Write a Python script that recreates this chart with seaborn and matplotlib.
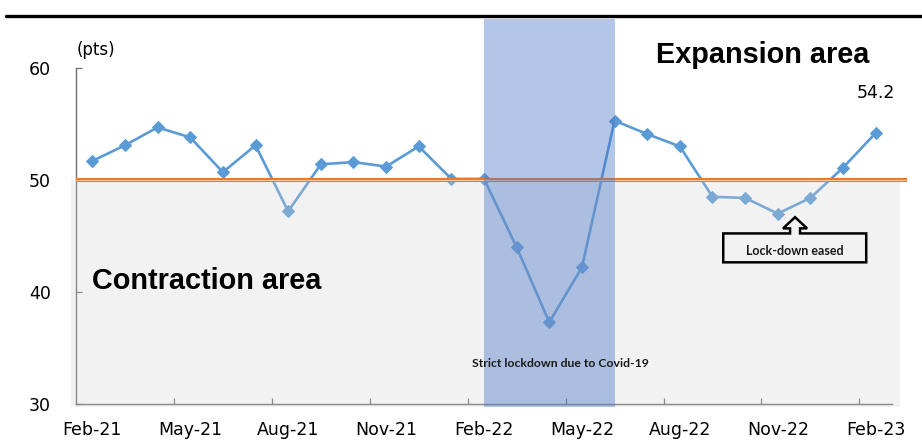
import numpy as np
import pandas as pd
import seaborn as sns
import matplotlib.pyplot as plt
from matplotlib.patches import Rectangle, Polygon
from matplotlib.lines import Line2D

# Monthly index readings, Feb-21 .. Feb-23
months = ["Feb-21", "Mar-21", "Apr-21", "May-21", "Jun-21", "Jul-21", "Aug-21",
          "Sep-21", "Oct-21", "Nov-21", "Dec-21", "Jan-22", "Feb-22", "Mar-22",
          "Apr-22", "May-22", "Jun-22", "Jul-22", "Aug-22", "Sep-22", "Oct-22",
          "Nov-22", "Dec-22", "Jan-23", "Feb-23"]
pmi = [51.7, 53.1, 54.7, 53.8, 50.7, 53.1, 47.2, 51.4, 51.6, 51.2, 53.0, 50.1,
       50.1, 44.0, 37.3, 42.2, 55.3, 54.1, 53.0, 48.5, 48.4, 47.0, 48.4, 51.1, 54.2]
tick_labels = ["Feb-21", "May-21", "Aug-21", "Nov-21", "Feb-22",
               "May-22", "Aug-22", "Nov-22", "Feb-23"]
y_ticks = [30, 40, 50, 60]
threshold = 50
lockdown_start, lockdown_end = "Feb-22", "Jun-22"
eased_month = "Nov-22"

df = pd.DataFrame({"idx": np.arange(len(months)), "month": months, "pmi": pmi})

sns.set_theme(style="white")
plt.rcParams["font.family"] = ["DejaVu Sans"]

W, H = 922, 441
fig = plt.figure(figsize=(W / 100, H / 100), dpi=100)
ax = fig.add_axes([76 / W, 37 / H, 816 / W, 336 / H])

line_col = "#5B9BD5"
sns.lineplot(data=df, x="idx", y="pmi", ax=ax, color=line_col, lw=1.9,
             marker="D", markersize=6, markeredgecolor=line_col,
             markerfacecolor=line_col, zorder=2)

ax.set_xlim(-0.5, len(months) - 0.5)
ax.set_ylim(30, 60)
ax.set_xlabel("")
ax.set_ylabel("")

# contraction zone shading (below the 50 threshold)
ax.add_patch(Rectangle((-0.65, 29.7), len(months) + 0.4, threshold - 29.7,
                       facecolor="#D2D2D2", alpha=0.28, lw=0, zorder=3,
                       clip_on=False))

# 50-point threshold line (double orange stroke)
x_thr = [-0.5, len(months) - 0.04]
ax.plot(x_thr, [threshold, threshold], color="#F07A22", lw=2.9, zorder=4,
        clip_on=False, solid_capstyle="butt")
ax.plot(x_thr, [threshold, threshold], color="#FBD9C0", lw=0.6, zorder=4,
        clip_on=False, solid_capstyle="butt")

# lockdown band
i0, i1 = months.index(lockdown_start), months.index(lockdown_end)
ax.add_patch(Rectangle((i0, 29.7), i1 - i0, 64.4 - 29.7, facecolor="#4472C4",
                       alpha=0.4, lw=0, zorder=5, clip_on=False))

# axes styling
for s in ["top", "right"]:
    ax.spines[s].set_visible(False)
for s in ["left", "bottom"]:
    ax.spines[s].set_color("#6E6E6E")
    ax.spines[s].set_linewidth(1.0)
    ax.spines[s].set_zorder(1)

ax.set_xticks(np.arange(0, len(months), 3))
ax.set_xticklabels(tick_labels)
ax.set_xticks(np.arange(2.5, len(months) - 1, 3), minor=True)
ax.tick_params(axis="x", which="major", length=0, pad=12, labelsize=12.5,
               labelcolor="black")
ax.tick_params(axis="x", which="minor", direction="in", length=4.3, width=0.9,
               color="#6E6E6E", bottom=True)
ax.set_yticks(y_ticks)
ax.tick_params(axis="y", direction="in", length=4.3, width=0.9, color="#6E6E6E",
               pad=18, labelsize=12.5, labelcolor="black", left=True)

# labels
ax.text(0.12, 61.6, "(pts)", ha="center", va="center", fontsize=12,
        color="black", clip_on=False)
ax.text(17.27, 61.2, "Expansion area", ha="left", va="center", fontsize=20.8,
        fontweight="bold", family="Liberation Sans", color="black", zorder=8,
        clip_on=False)
ax.text(0, 40.95, "Contraction area", ha="left", va="center", fontsize=20.8,
        fontweight="bold", family="Liberation Sans", color="black", zorder=8)
ax.annotate(f"{pmi[-1]:.1f}", xy=(len(pmi) - 1, pmi[-1]), xytext=(0, 22),
            textcoords="offset points", ha="center", va="bottom",
            fontsize=12.5, color="black", zorder=8, annotation_clip=False)
ax.text(14.33, 33.65, "Strict lockdown due to Covid-19", ha="center",
        va="center", fontsize=8.8, fontweight="bold", family="Lato",
        color="#1a1a1a", zorder=8)

# up-arrow callout under the Nov-22 trough
cx = months.index(eased_month) + 0.53
L, R, B, T = cx - 2.2, cx + 2.18, 42.65, 45.23
hb, tip, sw, hw = 45.68, 46.68, 0.153, 0.368
verts = [(L, B), (R, B), (R, T), (cx + sw, T), (cx + sw, hb), (cx + hw, hb),
         (cx, tip), (cx - hw, hb), (cx - sw, hb), (cx - sw, T), (L, T)]
ax.add_patch(Polygon(verts, closed=True, facecolor="none", edgecolor="black",
                     lw=1.8, zorder=7, joinstyle="miter"))
ax.text(cx, 43.63, "Lock-down eased", ha="center", va="center", fontsize=9,
        fontweight="bold", family="Lato", color="#1a1a1a", zorder=8)

# heavy rule across the top of the figure
fig.add_artist(Line2D([6 / W, 1], [1 - 15.5 / H, 1 - 15.5 / H],
                      color="black", lw=2.4, transform=fig.transFigure))

fig.savefig("out.png", dpi=100)
